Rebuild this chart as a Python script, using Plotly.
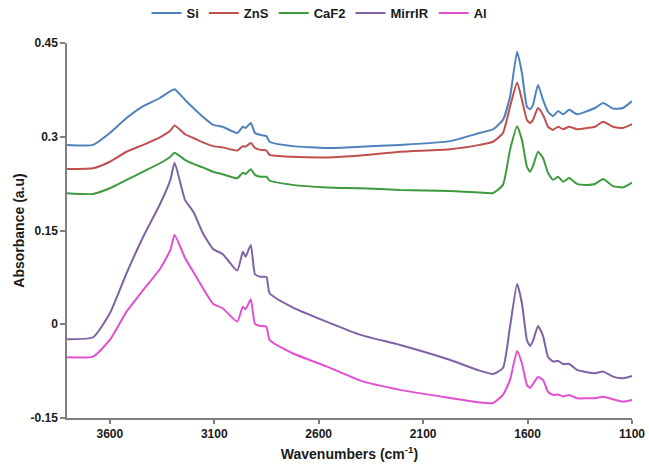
import plotly.graph_objects as go

wavenumbers = [3805, 3680, 3600, 3520, 3440, 3360, 3310, 3290, 3240, 3200, 3155, 3105, 3060,
               2990, 2963, 2950, 2925, 2905, 2880, 2850, 2835, 2725, 2560, 2400, 2210, 1970,
               1830, 1765, 1718, 1684, 1650, 1627, 1603, 1588, 1574, 1550, 1526, 1502, 1478,
               1454, 1430, 1401, 1363, 1315, 1277, 1238, 1191, 1143, 1100]

si = [0.287, 0.287, 0.306, 0.330, 0.349, 0.362, 0.373, 0.376, 0.359, 0.346, 0.332, 0.319, 0.316,
      0.306, 0.316, 0.314, 0.322, 0.306, 0.303, 0.301, 0.292, 0.285, 0.282, 0.284, 0.287, 0.293,
      0.306, 0.312, 0.327, 0.364, 0.436, 0.402, 0.348, 0.344, 0.351, 0.383, 0.359, 0.340, 0.333,
      0.341, 0.336, 0.343, 0.336, 0.341, 0.346, 0.354, 0.345, 0.346, 0.357]

zns = [0.2485, 0.2496, 0.260, 0.276, 0.287, 0.299, 0.310, 0.318, 0.304, 0.298, 0.291, 0.285, 0.283,
       0.278, 0.285, 0.284, 0.290, 0.282, 0.279, 0.278, 0.271, 0.268, 0.267, 0.270, 0.276, 0.280,
       0.287, 0.292, 0.306, 0.348, 0.387, 0.359, 0.327, 0.322, 0.327, 0.346, 0.335, 0.316, 0.311,
       0.316, 0.312, 0.316, 0.312, 0.314, 0.316, 0.324, 0.316, 0.314, 0.320]

caf2 = [0.2096, 0.2085, 0.2176, 0.2309, 0.2442, 0.2576, 0.268, 0.2746, 0.263, 0.2565, 0.251, 0.244, 0.240,
        0.2336, 0.2426, 0.2405, 0.248, 0.239, 0.236, 0.236, 0.230, 0.223, 0.219, 0.2176, 0.2149, 0.2133,
        0.2109, 0.210, 0.223, 0.279, 0.317, 0.295, 0.252, 0.244, 0.253, 0.276, 0.266, 0.242, 0.231,
        0.236, 0.228, 0.234, 0.2245, 0.223, 0.2245, 0.2325, 0.221, 0.219, 0.2266]

mirrir = [-0.024, -0.0208, 0.0176, 0.0816, 0.140, 0.192, 0.231, 0.2586, 0.199, 0.180, 0.146, 0.120, 0.1125,
          0.0858, 0.116, 0.108, 0.127, 0.080, 0.076, 0.0757, 0.0496, 0.027, 0.0037, -0.017, -0.0331, -0.0571,
          -0.0742, -0.0795, -0.070, -0.0038, 0.0645, 0.0336, -0.0251, -0.0347, -0.0267, -0.0027, -0.0187, -0.0523, -0.0595,
          -0.0587, -0.0635, -0.0635, -0.0731, -0.0768, -0.0784, -0.0758, -0.0838, -0.0864, -0.0827]

al = [-0.0528, -0.0518, -0.0251, 0.0202, 0.0549, 0.0885, 0.1189, 0.1429, 0.1061, 0.0837, 0.0581, 0.0325, 0.0256,
      0.0042, 0.0282, 0.024, 0.040, 0.0005, -0.0027, -0.0038, -0.0251, -0.0464, -0.0678, -0.0902, -0.105, -0.118,
      -0.125, -0.126, -0.113, -0.089, -0.0427, -0.0624, -0.0971, -0.102, -0.0955, -0.0843, -0.0891, -0.108, -0.113,
      -0.1123, -0.1155, -0.1131, -0.1184, -0.1184, -0.1184, -0.1158, -0.120, -0.1238, -0.1211]

series_names = ["Si", "ZnS", "CaF2", "MirrIR", "Al"]
series_values = [si, zns, caf2, mirrir, al]
series_colors = ["#4f81bd", "#c0504d", "#3e9a3e", "#7f62a6", "#e24fcf"]

x_ticks = [3600, 3100, 2600, 2100, 1600, 1100]
y_ticks = [0.45, 0.3, 0.15, 0, -0.15]
y_tick_labels = ["0.45", "0.3", "0.15", "0", "-0.15"]

fig = go.Figure()
for name, vals, col in zip(series_names, series_values, series_colors):
    fig.add_trace(go.Scatter(x=wavenumbers, y=vals, mode="lines", name=name,
                             line=dict(color=col, width=2, shape="spline", smoothing=0.5)))

font_family = "Liberation Sans, Arial, sans-serif"
fig.update_layout(
    width=649, height=465,
    margin=dict(l=67, r=17, t=43, b=47, autoexpand=False),
    paper_bgcolor="white", plot_bgcolor="white",
    font=dict(family=font_family, color="#1a1a1a", size=12),
    showlegend=True,
    legend=dict(orientation="h", x=0.447, xanchor="center", y=1.08, yanchor="middle",
                font=dict(size=13, family=font_family, color="#1a1a1a", weight="bold"),
                itemwidth=30, tracegroupgap=0),
    xaxis=dict(range=[3805, 1100], tickvals=x_ticks, ticktext=[str(t) for t in x_ticks],
               showgrid=False, zeroline=False, showline=True, linecolor="#7f7f7f", linewidth=1.5,
               ticks="outside", ticklen=4, tickcolor="#7f7f7f", tickwidth=1.5,
               tickfont=dict(size=12, family=font_family, color="#1a1a1a", weight="bold"),
               title=dict(text="Wavenumbers (cm<sup>-1</sup>)",
                          font=dict(size=14, weight="bold"), standoff=9)),
    yaxis=dict(range=[-0.15, 0.45], tickvals=y_ticks, ticktext=y_tick_labels,
               showgrid=False, zeroline=False, showline=True, linecolor="#7f7f7f", linewidth=1.5,
               ticks="outside", ticklen=5, tickcolor="#7f7f7f", tickwidth=1.5,
               tickfont=dict(size=12, family=font_family, color="#1a1a1a", weight="bold"),
               title=dict(text="Absorbance (a.u)", font=dict(size=14, weight="bold"), standoff=3)),
)

fig.write_html("out.html", config={"displayModeBar": False},
               post_script="document.body.style.margin='0';document.body.style.overflow='hidden';")
